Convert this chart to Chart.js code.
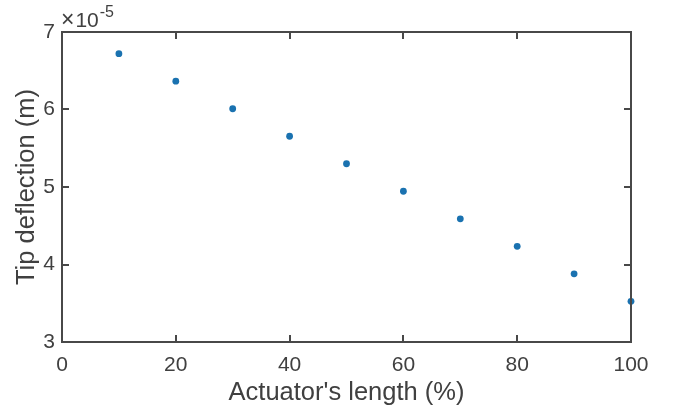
<!DOCTYPE html>
<html>
<head>
<meta charset="utf-8">
<script src="https://cdn.jsdelivr.net/npm/chart.js@4/dist/chart.umd.min.js"></script>
<style>
  html, body { margin: 0; padding: 0; background: #fff; }
  #wrap { width: 675px; height: 410px; position: relative; }
</style>
</head>
<body>
<div id="wrap"><canvas id="c" width="675" height="410"></canvas></div>
<script>
// Data
const actuatorLength = [10, 20, 30, 40, 50, 60, 70, 80, 90, 100];           // %
const tipDeflection = [6.72e-5, 6.365e-5, 6.01e-5, 5.655e-5, 5.30e-5,
                       4.945e-5, 4.59e-5, 4.235e-5, 3.88e-5, 3.525e-5];     // m
const xTicks = [0, 20, 40, 60, 80, 100];
const yTicks = [3e-5, 4e-5, 5e-5, 6e-5, 7e-5];
const yExponent = -5;
const xTitle = "Actuator's length (%)";
const yTitle = "Tip deflection (m)";

const AXIS = '#484848';
const TEXT = '#404040';
const FONT = "'Liberation Sans', Arial, Helvetica, sans-serif";

const boxPlugin = {
  id: 'matlabBox',
  afterDraw(chart) {
    const { ctx, chartArea: a, scales } = chart;
    const xs = scales.x, ys = scales.y;
    ctx.save();
    ctx.strokeStyle = AXIS;
    ctx.lineWidth = 2;
    ctx.lineCap = 'square';
    ctx.strokeRect(a.left, a.top, a.right - a.left, a.bottom - a.top);
    const tl = 6;
    ctx.beginPath();
    xTicks.forEach(v => {
      const px = Math.round(xs.getPixelForValue(v));
      ctx.moveTo(px, a.bottom); ctx.lineTo(px, a.bottom - tl);
      ctx.moveTo(px, a.top); ctx.lineTo(px, a.top + tl);
    });
    yTicks.forEach(v => {
      const py = Math.round(ys.getPixelForValue(v));
      ctx.moveTo(a.left, py); ctx.lineTo(a.left + tl, py);
      ctx.moveTo(a.right, py); ctx.lineTo(a.right - tl, py);
    });
    ctx.stroke();
    // exponent label
    ctx.fillStyle = TEXT;
    ctx.textBaseline = 'alphabetic';
    ctx.textAlign = 'left';
    ctx.font = '23px ' + FONT;
    const base = 27;
    let x = a.left - 1;
    ctx.fillText('\u00d7', x, base);
    x += ctx.measureText('\u00d7').width + 1;
    ctx.font = '21px ' + FONT;
    ctx.fillText('10', x, base);
    x += ctx.measureText('10').width + 1;
    ctx.font = '16px ' + FONT;
    ctx.fillText(String(yExponent), x, base - 10);
    ctx.restore();
  }
};

new Chart(document.getElementById('c'), {
  type: 'scatter',
  data: {
    datasets: [{
      data: actuatorLength.map((v, i) => ({ x: v, y: tipDeflection[i] })),
      backgroundColor: '#1a72b0',
      borderColor: '#1a72b0',
      pointRadius: 3.4,
      pointBorderWidth: 0,
      clip: false
    }]
  },
  options: {
    responsive: false,
    animation: false,
    devicePixelRatio: 1,
    layout: { padding: { top: 32, right: 44, left: 0, bottom: 0 } },
    plugins: { legend: { display: false }, tooltip: { enabled: false } },
    scales: {
      x: {
        type: 'linear', min: 0, max: 100,
        grid: { display: false, drawTicks: false },
        border: { display: false },
        afterBuildTicks: s => { s.ticks = xTicks.map(v => ({ value: v })); },
        afterFit: s => { s.height = 68; },
        ticks: { color: TEXT, font: { family: FONT, size: 21 }, padding: 11, maxRotation: 0 },
        title: { display: true, text: xTitle, color: TEXT,
                 font: { family: FONT, size: 25.5, lineHeight: 1.05 }, padding: { top: 0, bottom: 4 } }
      },
      y: {
        type: 'linear', min: 3e-5, max: 7e-5,
        grid: { display: false, drawTicks: false },
        border: { display: false },
        afterBuildTicks: s => { s.ticks = yTicks.map(v => ({ value: v })); },
        afterFit: s => { s.width = 62; },
        ticks: { color: TEXT, font: { family: FONT, size: 21 }, padding: 7,
                 callback: v => String(Math.round(v / Math.pow(10, yExponent))) },
        title: { display: true, text: yTitle, color: TEXT,
                 font: { family: FONT, size: 25.5, lineHeight: 1.05 }, padding: { top: 14, bottom: 0 } }
      }
    }
  },
  plugins: [boxPlugin]
});
</script>
</body>
</html>
